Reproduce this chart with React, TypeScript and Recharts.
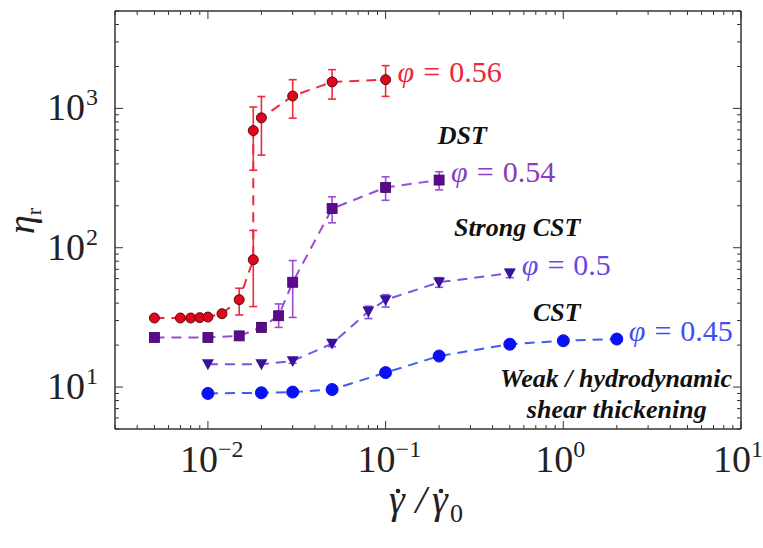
import { ScatterChart, Scatter, XAxis, YAxis, ErrorBar, ReferenceDot } from "recharts";

// phi = 0.56 (red circles)
const x56 = [0.005, 0.007, 0.008, 0.009, 0.01, 0.012, 0.015, 0.018, 0.018, 0.02, 0.03, 0.05, 0.1];
const y56 = [31.3, 31.3, 31.3, 31.5, 31.8, 33.6, 42.4, 82, 693, 855, 1227, 1549, 1607];
const lo56 = [null, null, null, null, null, null, 32.9, 37.8, 360, 462, 851, 1166, 1219];
const hi56 = [null, null, null, null, null, null, 51.2, 133, 1023, 1217, 1607, 1897, 2027];

// phi = 0.54 (purple squares)
const x54 = [0.005, 0.01, 0.015, 0.02, 0.025, 0.03, 0.05, 0.1, 0.2];
const y54 = [22.7, 22.7, 23.3, 26.8, 32.5, 56.5, 191, 271, 306];
const lo54 = [null, null, null, 25, 26.8, 31.6, 151, 219, 260];
const hi54 = [null, null, null, 29, 39.5, 80.9, 232, 323, 351];

// phi = 0.5 (down triangles)
const x50 = [0.01, 0.02, 0.03, 0.05, 0.08, 0.1, 0.2, 0.5];
const y50 = [14.6, 14.6, 15.4, 20.5, 34.9, 42.2, 56.5, 65.6];
const lo50 = [null, null, 14.8, 19.5, 31, 37.5, 52, 61];
const hi50 = [null, null, 16, 21.5, 38, 46, 61, 70];

// phi = 0.45 (blue circles)
const x45 = [0.01, 0.02, 0.03, 0.05, 0.1, 0.2, 0.5, 1, 2];
const y45 = [9.0, 9.1, 9.2, 9.6, 12.7, 16.7, 20.3, 21.5, 22.1];

const xMajor = [0.01, 0.1, 1, 10];
const yMajor = [10, 100, 1000];
const minorSteps = [2, 3, 4, 5, 6, 7, 8, 9];
const xDomain = [0.003, 10];
const yDomain = [5, 5000];

const regimeText = ["DST", "Strong CST", "CST", "Weak / hydrodynamic", "shear thickening"];
const regimeX = [0.27, 0.55, 0.92, 1.98, 2.0];
const regimeY = [643, 140, 34.7, 11.6, 6.95];

const serif = "'Liberation Serif', 'DejaVu Serif', serif";

const build = (xs: number[], ys: number[], lo?: (number | null)[], hi?: (number | null)[]) =>
  xs.map((x, i) => ({
    x,
    y: ys[i],
    err: lo && hi && lo[i] != null && hi[i] != null ? [ys[i] - (lo[i] as number), (hi[i] as number) - ys[i]] : undefined,
  }));

const d56 = build(x56, y56, lo56, hi56);
const d54 = build(x54, y54, lo54, hi54);
const d50 = build(x50, y50, lo50, hi50);
const d45 = build(x45, y45);

const minorOf = (decades: number[], dom: number[]) =>
  decades.flatMap((d) => minorSteps.map((m) => +(m * d).toPrecision(2))).filter((v) => v >= dom[0] && v <= dom[1]);
const xTicks = [...xMajor, ...minorOf([0.001, 0.01, 0.1, 1], xDomain)].sort((a, b) => a - b);
const yTicks = [...yMajor, ...minorOf([1, 10, 100, 1000], yDomain)].sort((a, b) => a - b);

const isMajor = (v: number) => Math.abs(Math.log10(v) - Math.round(Math.log10(v))) < 1e-6;
const expOf = (v: number) => {
  const e = Math.round(Math.log10(v));
  return e < 0 ? "\u2212" + Math.abs(e) : String(e);
};

const AX = "#333";

function BottomTick(p: any) {
  const v = p.payload.value;
  const M = isMajor(v);
  return (
    <g>
      <line x1={p.x} x2={p.x} y1={p.y} y2={p.y - (M ? 8 : 4)} stroke={AX} strokeWidth={1} />
      {M && (
        <text x={p.x + 10} y={p.y + 43} textAnchor="end" fontFamily={serif} fontSize={38} fill="#222">10</text>
      )}
      {M && (
        <text x={p.x + 10} y={p.y + 28} textAnchor="start" fontFamily={serif} fontSize={24} fill="#222">{expOf(v)}</text>
      )}
    </g>
  );
}
function TopTick(p: any) {
  const M = isMajor(p.payload.value);
  return <line x1={p.x} x2={p.x} y1={p.y} y2={p.y + (M ? 8 : 4)} stroke={AX} strokeWidth={1} />;
}
function LeftTick(p: any) {
  const v = p.payload.value;
  const M = isMajor(v);
  return (
    <g>
      <line x1={p.x} x2={p.x + (M ? 8 : 4)} y1={p.y} y2={p.y} stroke={AX} strokeWidth={1} />
      {M && (
        <text x={p.x - 30} y={p.y + 12} textAnchor="end" fontFamily={serif} fontSize={38} fill="#222">10</text>
      )}
      {M && (
        <text x={p.x - 29} y={p.y - 3} textAnchor="start" fontFamily={serif} fontSize={24} fill="#222">{expOf(v)}</text>
      )}
    </g>
  );
}
function RightTick(p: any) {
  const M = isMajor(p.payload.value);
  return <line x1={p.x} x2={p.x - (M ? 8 : 4)} y1={p.y} y2={p.y} stroke={AX} strokeWidth={1} />;
}

const circle = (fill: string, r: number, stroke: string) => (p: any) =>
  <circle cx={p.cx} cy={p.cy} r={r} fill={fill} stroke={stroke} strokeWidth={1} />;
const square = (fill: string, s: number) => (p: any) =>
  <rect x={p.cx - s / 2} y={p.cy - s / 2} width={s} height={s} fill={fill} stroke="#3a0860" strokeWidth={0.8} />;
const downTri = (fill: string, s: number) => (p: any) =>
  <path d={`M${p.cx - s / 2},${p.cy - s * 0.4} L${p.cx + s / 2},${p.cy - s * 0.4} L${p.cx},${p.cy + s * 0.5} Z`} fill={fill} />;

const series = [
  { name: "0.56", data: d56, fill: "#e0061c", line: "#ee2a3c", text: "#e8283a", shape: circle("#e0061c", 5, "#5a0a10") },
  { name: "0.54", data: d54, fill: "#5b0a8c", line: "#9a4cd2", text: "#8a3cc0", shape: square("#5b0a8c", 10) },
  { name: "0.5", data: d50, fill: "#3a1298", line: "#7a52e6", text: "#6648e6", shape: downTri("#3a1298", 12) },
  { name: "0.45", data: d45, fill: "#0a10f2", line: "#3e5cf2", text: "#3c50f4", shape: circle("#0a10f2", 6, "#0a10f2") },
];

export default function App() {
  return (
    <div style={{ position: "absolute", left: 0, top: 0, width: 763, height: 548, background: "#fff" }}>
      <ScatterChart width={763} height={548} margin={{ top: 10, right: 21, bottom: 59, left: 55 }}>
        <XAxis xAxisId="b" dataKey="x" type="number" scale="log" domain={xDomain} allowDataOverflow
          ticks={xTicks} interval={0} tickSize={0} tickMargin={0} tickLine={false} height={60}
          axisLine={{ stroke: AX, strokeWidth: 1.5 }} tick={<BottomTick />} />
        <XAxis xAxisId="t" orientation="top" dataKey="x" type="number" scale="log" domain={xDomain} allowDataOverflow
          ticks={xTicks} interval={0} tickSize={0} tickMargin={0} tickLine={false} height={1}
          axisLine={{ stroke: AX, strokeWidth: 1.5 }} tick={<TopTick />} />
        <YAxis yAxisId="l" dataKey="y" type="number" scale="log" domain={yDomain} allowDataOverflow
          ticks={yTicks} interval={0} tickSize={0} tickMargin={0} tickLine={false} width={60}
          axisLine={{ stroke: AX, strokeWidth: 1.5 }} tick={<LeftTick />} />
        <YAxis yAxisId="r" orientation="right" dataKey="y" type="number" scale="log" domain={yDomain} allowDataOverflow
          ticks={yTicks} interval={0} tickSize={0} tickMargin={0} tickLine={false} width={1}
          axisLine={{ stroke: AX, strokeWidth: 1.5 }} tick={<RightTick />} />

        {/* invisible series bound to the mirrored frame axes so they get drawn */}
        <Scatter xAxisId="t" yAxisId="r" data={d45} isAnimationActive={false} fill="none" shape={() => <g />} />

        {series.map((s) => (
          <Scatter key={s.name} xAxisId="b" yAxisId="l" data={s.data} isAnimationActive={false}
            fill={s.fill} shape={s.shape} lineType="joint"
            line={{ stroke: s.line, strokeWidth: 2, strokeDasharray: "10 7" }}>
            <ErrorBar dataKey="err" direction="y" width={4} stroke={s.line} strokeWidth={1.6} />
          </Scatter>
        ))}

        {series.map((s) => {
          const last = s.data[s.data.length - 1];
          return (
            <ReferenceDot key={"lab" + s.name} xAxisId="b" yAxisId="l" x={last.x} y={last.y} ifOverflow="visible"
              shape={(p: any) => (
                <text x={p.cx + 12} y={p.cy + 2} fontFamily={serif} fontSize={30} fill={s.text}>
                  <tspan fontStyle="italic">φ</tspan>
                  <tspan dx={9}>=</tspan>
                  <tspan dx={9}>{s.name}</tspan>
                </text>
              )} />
          );
        })}

        {regimeText.map((t, i) => (
          <ReferenceDot key={t} xAxisId="b" yAxisId="l" x={regimeX[i]} y={regimeY[i]} ifOverflow="visible"
            shape={(p: any) => (
              <text x={p.cx} y={p.cy} dy={9} textAnchor="middle" fontFamily={serif} fontSize={26}
                fontWeight="bold" fontStyle="italic" fill="#111">
                {t}
              </text>
            )} />
        ))}

        <text x={0} y={0} transform="translate(34,221) rotate(-90)" textAnchor="middle" fontFamily={serif} fontSize={38} fill="#222">
          <tspan fontStyle="italic">η</tspan>
          <tspan dy={7} fontSize={22}>r</tspan>
        </text>
        <g fontFamily={serif} fill="#222">
          <text x={397} y={513} textAnchor="middle" fontSize={40} fontStyle="italic">γ</text>
          <circle cx={398} cy={491} r={2.3} fill="#222" />
          <text x={421} y={513} textAnchor="middle" fontSize={40} fontStyle="italic">/</text>
          <text x={440} y={513} textAnchor="middle" fontSize={40} fontStyle="italic">γ</text>
          <circle cx={441} cy={491} r={2.3} fill="#222" />
          <text x={450} y={522} textAnchor="start" fontSize={26}>0</text>
        </g>
      </ScatterChart>
    </div>
  );
}
